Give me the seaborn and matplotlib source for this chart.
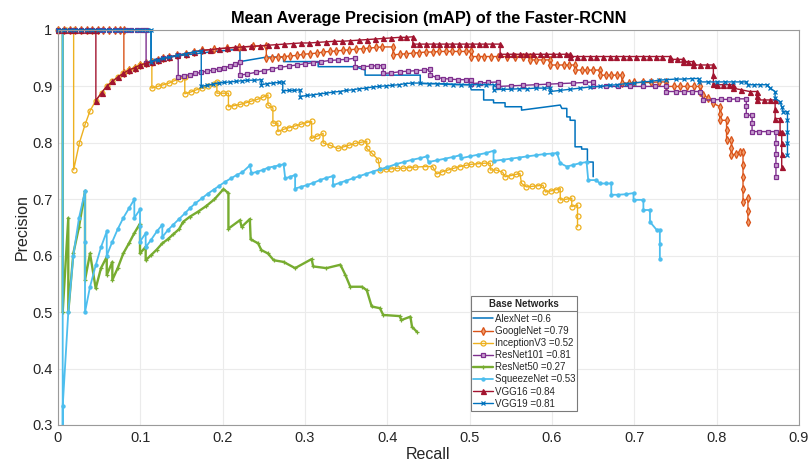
import matplotlib
matplotlib.use("Agg")
import matplotlib.pyplot as plt
from matplotlib.lines import Line2D
import pandas as pd
import seaborn as sns

# ---------------- data (recall, precision) ----------------
alexnet = [(0, 1), (0.113, 1), (0.113, 0.947), (0.15, 0.955), (0.19, 0.962), (0.221, 0.966),
           (0.221, 0.944), (0.253, 0.952), (0.274, 0.952), (0.274, 0.944), (0.316, 0.944),
           (0.316, 0.935), (0.361, 0.935), (0.373, 0.929), (0.373, 0.92), (0.44, 0.92),
           (0.44, 0.905), (0.46, 0.905), (0.50, 0.903), (0.502, 0.894), (0.517, 0.894),
           (0.517, 0.876), (0.529, 0.876), (0.529, 0.871), (0.543, 0.871), (0.543, 0.864),
           (0.563, 0.864), (0.563, 0.858), (0.61, 0.867), (0.612, 0.861), (0.618, 0.861),
           (0.618, 0.846), (0.622, 0.846), (0.622, 0.84), (0.628, 0.84), (0.628, 0.793),
           (0.636, 0.793), (0.636, 0.789), (0.643, 0.789), (0.643, 0.766), (0.65, 0.766),
           (0.65, 0.74)]

googlenet = [(0, 1), (0.007, 1), (0.014, 1), (0.021, 1), (0.028, 1), (0.035, 1), (0.041, 1),
             (0.048, 1), (0.055, 1), (0.062, 1), (0.069, 1), (0.075, 1), (0.08, 1),
             (0.08, 0.923), (0.086, 0.929),
             (0.093, 0.933), (0.1, 0.938), (0.107, 0.941), (0.114, 0.944), (0.121, 0.947),
             (0.128, 0.95), (0.135, 0.952), (0.145, 0.955), (0.155, 0.958), (0.165, 0.961),
             (0.175, 0.964), (0.19, 0.966), (0.205, 0.968), (0.22, 0.97), (0.237, 0.971),
             (0.253, 0.972), (0.253, 0.95), (0.26, 0.951), (0.267, 0.952), (0.274, 0.953),
             (0.282, 0.954), (0.29, 0.955), (0.298, 0.957), (0.306, 0.958), (0.314, 0.959),
             (0.322, 0.961), (0.33, 0.962), (0.338, 0.963), (0.346, 0.964), (0.354, 0.965),
             (0.362, 0.966), (0.37, 0.967), (0.378, 0.968), (0.386, 0.969), (0.394, 0.97),
             (0.407, 0.97), (0.407, 0.956), (0.415, 0.957), (0.423, 0.958), (0.431, 0.959),
             (0.439, 0.96), (0.447, 0.961), (0.455, 0.961), (0.463, 0.962), (0.471, 0.962),
             (0.479, 0.962), (0.487, 0.962), (0.495, 0.962), (0.502, 0.962), (0.502, 0.953),
             (0.51, 0.953), (0.518, 0.953), (0.526, 0.953), (0.535, 0.953), (0.545, 0.953),
             (0.555, 0.953), (0.565, 0.953), (0.573, 0.953), (0.573, 0.947), (0.58, 0.947),
             (0.589, 0.947), (0.598, 0.947), (0.598, 0.938), (0.606, 0.938), (0.614, 0.938),
             (0.621, 0.938), (0.628, 0.938), (0.628, 0.929), (0.636, 0.929), (0.643, 0.929),
             (0.65, 0.929), (0.658, 0.929), (0.658, 0.92), (0.665, 0.92), (0.672, 0.92),
             (0.679, 0.92), (0.685, 0.92), (0.685, 0.906), (0.693, 0.906), (0.7, 0.907),
             (0.71, 0.907), (0.72, 0.907), (0.73, 0.908), (0.739, 0.908), (0.739, 0.9),
             (0.748, 0.9), (0.756, 0.9), (0.764, 0.9), (0.772, 0.9), (0.78, 0.9), (0.78, 0.891),
             (0.784, 0.885), (0.79, 0.879), (0.796, 0.87), (0.804, 0.864), (0.804, 0.852),
             (0.804, 0.84), (0.812, 0.84), (0.812, 0.822), (0.812, 0.805), (0.818, 0.805),
             (0.818, 0.79), (0.818, 0.778), (0.824, 0.781), (0.828, 0.784), (0.832, 0.784),
             (0.832, 0.76), (0.832, 0.74), (0.832, 0.718), (0.832, 0.696), (0.838, 0.702),
             (0.838, 0.68), (0.838, 0.66)]

inceptionv3 = [(0, 1), (0.01, 1), (0.019, 1), (0.019, 0.752), (0.026, 0.8), (0.033, 0.833),
               (0.039, 0.857), (0.046, 0.875), (0.053, 0.889), (0.059, 0.9), (0.066, 0.909),
               (0.073, 0.917), (0.079, 0.923), (0.086, 0.929), (0.093, 0.933), (0.1, 0.938),
               (0.107, 0.941), (0.114, 0.944), (0.114, 0.897), (0.121, 0.9), (0.128, 0.903),
               (0.135, 0.906), (0.141, 0.91), (0.148, 0.913), (0.154, 0.917), (0.154, 0.887),
               (0.161, 0.89), (0.168, 0.894), (0.175, 0.897), (0.182, 0.9), (0.189, 0.904),
               (0.193, 0.908), (0.193, 0.888), (0.2, 0.888), (0.207, 0.888), (0.207, 0.864),
               (0.214, 0.866), (0.221, 0.868), (0.228, 0.871), (0.235, 0.874), (0.242, 0.877),
               (0.249, 0.881), (0.255, 0.885), (0.255, 0.867), (0.261, 0.862), (0.261, 0.835),
               (0.267, 0.835), (0.267, 0.82), (0.274, 0.824), (0.281, 0.827), (0.288, 0.83),
               (0.295, 0.833), (0.302, 0.836), (0.308, 0.838), (0.308, 0.808), (0.315, 0.812),
               (0.322, 0.817), (0.322, 0.80), (0.33, 0.796), (0.34, 0.79), (0.347, 0.793),
               (0.354, 0.796), (0.361, 0.799), (0.368, 0.801), (0.375, 0.803), (0.375, 0.79),
               (0.381, 0.782), (0.389, 0.77), (0.391, 0.752), (0.398, 0.753), (0.405, 0.754),
               (0.412, 0.755), (0.419, 0.755), (0.426, 0.756), (0.433, 0.757), (0.446, 0.758),
               (0.455, 0.758), (0.46, 0.745), (0.467, 0.749), (0.474, 0.752), (0.481, 0.755),
               (0.488, 0.758), (0.495, 0.76), (0.502, 0.762), (0.51, 0.763), (0.518, 0.764),
               (0.525, 0.764), (0.525, 0.752), (0.532, 0.752), (0.54, 0.748), (0.543, 0.74),
               (0.55, 0.742), (0.556, 0.744), (0.561, 0.746), (0.563, 0.728), (0.569, 0.722),
               (0.576, 0.723), (0.583, 0.724), (0.589, 0.725), (0.592, 0.713), (0.599, 0.715),
               (0.605, 0.717), (0.61, 0.719), (0.61, 0.699), (0.617, 0.7), (0.624, 0.702),
               (0.624, 0.687), (0.631, 0.69), (0.631, 0.67), (0.631, 0.651)]

resnet101 = [(0, 1), (0.007, 1), (0.014, 1), (0.021, 1), (0.028, 1), (0.035, 1), (0.041, 1),
             (0.048, 1), (0.055, 1), (0.062, 1), (0.069, 1), (0.075, 1), (0.082, 1),
             (0.089, 1), (0.096, 1), (0.102, 1), (0.107, 1),
             (0.107, 0.941), (0.114, 0.944), (0.121, 0.947), (0.128, 0.95), (0.135, 0.952),
             (0.146, 0.955), (0.146, 0.917), (0.153, 0.919), (0.16, 0.921), (0.167, 0.923),
             (0.174, 0.925), (0.181, 0.927), (0.188, 0.929), (0.195, 0.931), (0.202, 0.933),
             (0.209, 0.936), (0.215, 0.94), (0.221, 0.944), (0.221, 0.92), (0.23, 0.922),
             (0.24, 0.925), (0.25, 0.928), (0.26, 0.931), (0.27, 0.934), (0.28, 0.936),
             (0.29, 0.938), (0.30, 0.94), (0.31, 0.942), (0.32, 0.944), (0.33, 0.946),
             (0.34, 0.947), (0.35, 0.948), (0.361, 0.95), (0.361, 0.935), (0.37, 0.935),
             (0.38, 0.936), (0.388, 0.937), (0.395, 0.937), (0.395, 0.923), (0.405, 0.924),
             (0.415, 0.926), (0.425, 0.927), (0.435, 0.928), (0.445, 0.929), (0.452, 0.93),
             (0.452, 0.92), (0.46, 0.916), (0.468, 0.914), (0.476, 0.913), (0.486, 0.912),
             (0.496, 0.912), (0.502, 0.912), (0.502, 0.905), (0.512, 0.906), (0.522, 0.907),
             (0.535, 0.908), (0.535, 0.9), (0.55, 0.901), (0.565, 0.902), (0.58, 0.903),
             (0.595, 0.904), (0.61, 0.905), (0.625, 0.906), (0.64, 0.907), (0.65, 0.908),
             (0.65, 0.9), (0.665, 0.9), (0.68, 0.9), (0.695, 0.9), (0.71, 0.9), (0.725, 0.9),
             (0.739, 0.9), (0.739, 0.891), (0.75, 0.891), (0.76, 0.891), (0.77, 0.891),
             (0.78, 0.891), (0.784, 0.876), (0.795, 0.876), (0.805, 0.877), (0.815, 0.877),
             (0.825, 0.878), (0.836, 0.878), (0.836, 0.865), (0.836, 0.849), (0.843, 0.849),
             (0.843, 0.835), (0.843, 0.82), (0.852, 0.82), (0.862, 0.82), (0.872, 0.82),
             (0.872, 0.8), (0.872, 0.78), (0.872, 0.76), (0.872, 0.74)]

resnet50 = [(0.0057, 1), (0.0057, 0.5), (0.0125, 0.667), (0.0125, 0.5), (0.0186, 0.604),
            (0.0255, 0.651), (0.0328, 0.714), (0.0328, 0.557), (0.0389, 0.604), (0.0458, 0.542),
            (0.0522, 0.578), (0.0592, 0.598), (0.0592, 0.566), (0.066, 0.589), (0.066, 0.557),
            (0.0725, 0.578), (0.0793, 0.604), (0.0862, 0.622), (0.0927, 0.64), (0.0996, 0.657),
            (0.0996, 0.604), (0.1065, 0.616), (0.1065, 0.592), (0.113, 0.601), (0.12, 0.611),
            (0.1267, 0.622), (0.1332, 0.629), (0.14, 0.638), (0.147, 0.647), (0.152, 0.66),
            (0.16, 0.669), (0.17, 0.678), (0.18, 0.688), (0.19, 0.7), (0.201, 0.718),
            (0.207, 0.711), (0.207, 0.648), (0.221, 0.663), (0.223, 0.651), (0.233, 0.665),
            (0.234, 0.629), (0.243, 0.622), (0.247, 0.61), (0.255, 0.604), (0.262, 0.592),
            (0.274, 0.589), (0.288, 0.578), (0.308, 0.594), (0.31, 0.581), (0.326, 0.578),
            (0.343, 0.584), (0.349, 0.566), (0.355, 0.545), (0.369, 0.545), (0.375, 0.539),
            (0.381, 0.51), (0.391, 0.507), (0.395, 0.495), (0.415, 0.493), (0.417, 0.486),
            (0.428, 0.492), (0.43, 0.474), (0.436, 0.465)]

squeezenet = [(0.0057, 1), (0.0057, 0.0), (0.0057, 0.333), (0.0125, 0.5), (0.0186, 0.6),
              (0.0255, 0.667), (0.0328, 0.714), (0.0328, 0.625), (0.0328, 0.5), (0.0389, 0.545),
              (0.0458, 0.583), (0.0522, 0.615), (0.0592, 0.643), (0.0592, 0.6), (0.066, 0.625),
              (0.0725, 0.647), (0.0793, 0.667), (0.0862, 0.684), (0.0927, 0.7), (0.0927, 0.667),
              (0.0996, 0.682), (0.0996, 0.652), (0.0996, 0.625), (0.1065, 0.64), (0.1065, 0.615),
              (0.113, 0.628), (0.12, 0.643), (0.1267, 0.655), (0.1267, 0.633), (0.1332, 0.645),
              (0.14, 0.655), (0.147, 0.665), (0.154, 0.675), (0.16, 0.684), (0.167, 0.693),
              (0.175, 0.702), (0.182, 0.71), (0.189, 0.717), (0.196, 0.724), (0.203, 0.731),
              (0.21, 0.737), (0.217, 0.743), (0.224, 0.748), (0.233, 0.76), (0.235, 0.746),
              (0.242, 0.749), (0.249, 0.752), (0.255, 0.756), (0.262, 0.758), (0.268, 0.76),
              (0.274, 0.762), (0.276, 0.737), (0.282, 0.74), (0.288, 0.743), (0.288, 0.719),
              (0.295, 0.722), (0.302, 0.725), (0.31, 0.729), (0.318, 0.734), (0.326, 0.738),
              (0.334, 0.741), (0.334, 0.725), (0.342, 0.729), (0.35, 0.733), (0.358, 0.737),
              (0.366, 0.741), (0.374, 0.745), (0.382, 0.749), (0.391, 0.753), (0.4, 0.757),
              (0.41, 0.762), (0.42, 0.766), (0.43, 0.77), (0.44, 0.773), (0.448, 0.776),
              (0.45, 0.766), (0.46, 0.769), (0.47, 0.772), (0.48, 0.775), (0.488, 0.778),
              (0.49, 0.773), (0.5, 0.776), (0.51, 0.779), (0.52, 0.782), (0.529, 0.786),
              (0.529, 0.768), (0.54, 0.77), (0.55, 0.772), (0.56, 0.774), (0.57, 0.776),
              (0.58, 0.778), (0.59, 0.78), (0.6, 0.781), (0.606, 0.782), (0.61, 0.764),
              (0.618, 0.758), (0.626, 0.761), (0.634, 0.764), (0.642, 0.766), (0.644, 0.734),
              (0.654, 0.734), (0.658, 0.728), (0.665, 0.728), (0.672, 0.728), (0.672, 0.708),
              (0.68, 0.708), (0.69, 0.709), (0.699, 0.711), (0.699, 0.699), (0.711, 0.699),
              (0.711, 0.681), (0.719, 0.681), (0.719, 0.66), (0.727, 0.646), (0.731, 0.646),
              (0.731, 0.62), (0.731, 0.595)]

vgg16 = [(0, 1), (0.007, 1), (0.014, 1), (0.021, 1), (0.028, 1), (0.035, 1), (0.041, 1),
         (0.046, 1), (0.046, 0.875),
         (0.053, 0.889), (0.059, 0.9), (0.066, 0.909), (0.073, 0.917), (0.079, 0.923),
         (0.086, 0.929), (0.093, 0.933), (0.1, 0.938), (0.107, 0.941), (0.114, 0.944),
         (0.121, 0.947), (0.128, 0.95), (0.135, 0.952), (0.145, 0.955), (0.155, 0.958),
         (0.165, 0.961), (0.175, 0.964), (0.185, 0.965), (0.195, 0.967), (0.205, 0.968),
         (0.215, 0.969), (0.225, 0.97), (0.235, 0.971), (0.245, 0.972), (0.255, 0.973),
         (0.265, 0.974), (0.275, 0.975), (0.285, 0.976), (0.295, 0.977), (0.305, 0.977),
         (0.315, 0.978), (0.325, 0.979), (0.335, 0.98), (0.345, 0.98), (0.355, 0.981),
         (0.365, 0.982), (0.375, 0.983), (0.385, 0.984), (0.395, 0.985), (0.405, 0.986),
         (0.415, 0.987), (0.423, 0.987), (0.431, 0.988), (0.431, 0.975), (0.439, 0.975),
         (0.447, 0.975), (0.455, 0.975), (0.463, 0.975), (0.471, 0.975), (0.479, 0.975),
         (0.487, 0.975), (0.495, 0.975), (0.503, 0.975), (0.511, 0.975), (0.519, 0.975),
         (0.527, 0.975), (0.537, 0.975), (0.537, 0.957), (0.545, 0.957), (0.553, 0.957),
         (0.561, 0.957), (0.569, 0.957), (0.577, 0.957), (0.585, 0.957), (0.593, 0.957),
         (0.601, 0.957), (0.609, 0.957), (0.617, 0.957), (0.622, 0.957), (0.622, 0.953),
         (0.63, 0.953), (0.638, 0.953), (0.646, 0.953), (0.654, 0.953), (0.662, 0.953),
         (0.67, 0.953), (0.678, 0.953), (0.686, 0.953), (0.694, 0.953), (0.702, 0.953),
         (0.71, 0.953), (0.718, 0.953), (0.726, 0.953), (0.734, 0.953), (0.743, 0.953),
         (0.743, 0.948), (0.752, 0.948), (0.759, 0.948), (0.759, 0.944), (0.765, 0.944),
         (0.771, 0.944), (0.771, 0.938), (0.78, 0.938), (0.788, 0.938), (0.796, 0.938),
         (0.796, 0.92), (0.796, 0.905), (0.8, 0.903), (0.808, 0.903), (0.815, 0.903),
         (0.82, 0.903), (0.82, 0.897), (0.83, 0.894), (0.84, 0.891), (0.849, 0.891),
         (0.849, 0.883), (0.849, 0.876), (0.857, 0.876), (0.865, 0.876), (0.871, 0.876),
         (0.871, 0.86), (0.871, 0.843), (0.877, 0.843), (0.877, 0.82), (0.879, 0.82),
         (0.879, 0.8), (0.879, 0.78), (0.879, 0.758)]

vgg19 = [(0, 1), (0.007, 1), (0.014, 1), (0.021, 1), (0.028, 1), (0.035, 1), (0.041, 1),
         (0.048, 1), (0.055, 1), (0.062, 1), (0.069, 1), (0.075, 1), (0.082, 1),
         (0.089, 1), (0.096, 1), (0.102, 1), (0.108, 1), (0.113, 1),
         (0.113, 0.944), (0.121, 0.947), (0.128, 0.95), (0.135, 0.952), (0.145, 0.955),
         (0.155, 0.958), (0.165, 0.961), (0.174, 0.963), (0.174, 0.9), (0.181, 0.902),
         (0.188, 0.904), (0.195, 0.906), (0.202, 0.907), (0.209, 0.908), (0.216, 0.909),
         (0.223, 0.91), (0.23, 0.911), (0.238, 0.911), (0.247, 0.912), (0.247, 0.903),
         (0.254, 0.905), (0.261, 0.906), (0.268, 0.907), (0.273, 0.908), (0.273, 0.892),
         (0.28, 0.893), (0.287, 0.893), (0.294, 0.894), (0.294, 0.882), (0.302, 0.884),
         (0.31, 0.885), (0.318, 0.887), (0.326, 0.888), (0.334, 0.89), (0.342, 0.891),
         (0.35, 0.893), (0.358, 0.894), (0.366, 0.896), (0.374, 0.897), (0.382, 0.899),
         (0.39, 0.9), (0.398, 0.901), (0.406, 0.902), (0.414, 0.903), (0.422, 0.905),
         (0.43, 0.906), (0.44, 0.906), (0.45, 0.905), (0.46, 0.905), (0.47, 0.904),
         (0.48, 0.903), (0.49, 0.903), (0.5, 0.903), (0.51, 0.903), (0.52, 0.903),
         (0.529, 0.903), (0.529, 0.894), (0.54, 0.895), (0.55, 0.895), (0.56, 0.896),
         (0.57, 0.896), (0.58, 0.897), (0.59, 0.897), (0.598, 0.897), (0.598, 0.891),
         (0.61, 0.893), (0.622, 0.895), (0.634, 0.897), (0.646, 0.899), (0.658, 0.9),
         (0.67, 0.902), (0.679, 0.903), (0.69, 0.905), (0.7, 0.906), (0.71, 0.908),
         (0.72, 0.909), (0.73, 0.911), (0.739, 0.912), (0.75, 0.913), (0.76, 0.913),
         (0.77, 0.914), (0.778, 0.914), (0.778, 0.908), (0.79, 0.908), (0.8, 0.908),
         (0.81, 0.908), (0.82, 0.908), (0.83, 0.908), (0.836, 0.908), (0.838, 0.903),
         (0.845, 0.903), (0.853, 0.903), (0.861, 0.903), (0.865, 0.897), (0.871, 0.891),
         (0.871, 0.879), (0.877, 0.873), (0.879, 0.864), (0.881, 0.855), (0.886, 0.855),
         (0.886, 0.84), (0.886, 0.82), (0.886, 0.8), (0.886, 0.778)]

network_names = ["AlexNet", "GoogleNet", "InceptionV3", "ResNet101",
                 "ResNet50", "SqueezeNet", "VGG16", "VGG19"]
network_ap = [0.6, 0.79, 0.52, 0.81, 0.27, 0.53, 0.84, 0.81]
network_curves = [alexnet, googlenet, inceptionv3, resnet101,
                  resnet50, squeezenet, vgg16, vgg19]

x_ticks = [0, 0.1, 0.2, 0.3, 0.4, 0.5, 0.6, 0.7, 0.8, 0.9]
x_tick_labels = ["0", "0.1", "0.2", "0.3", "0.4", "0.5", "0.6", "0.7", "0.8", "0.9"]
y_ticks = [0.3, 0.4, 0.5, 0.6, 0.7, 0.8, 0.9, 1.0]
y_tick_labels = ["0.3", "0.4", "0.5", "0.6", "0.7", "0.8", "0.9", "1"]

# ---------------- styles ----------------
styles = [
    dict(color="#0072BD", marker=None, lw=1.1, clip=False),
    dict(color="#D95319", marker="d", ms=3.6, mfc="#F0A070", lw=1.0, clip=False),
    dict(color="#EDB120", marker="o", ms=3.6, mfc="none", lw=1.0, clip=False),
    dict(color="#7E2F8E", marker="s", ms=3.2, mfc="#C8A0D0", lw=1.0, clip=False),
    dict(color="#77AC30", marker="+", ms=3.2, mfc="#77AC30", lw=1.7, clip=False),
    dict(color="#4DBEEE", marker=".", ms=4.5, mfc="#4DBEEE", lw=1.3, clip=True),
    dict(color="#A2142F", marker="^", ms=3.6, mfc="#A2142F", lw=1.0, clip=False),
    dict(color="#0072BD", marker="x", ms=2.6, mfc="#0072BD", lw=1.0, clip=False),
]

sns.set_theme(style="whitegrid")
plt.rcParams["font.family"] = ["Liberation Sans", "DejaVu Sans"]

fig = plt.figure(figsize=(8.11, 4.66), dpi=100)
ax = fig.add_axes([58 / 811, 1 - 425 / 466, (799 - 58) / 811, (425 - 30) / 466])
ax.set_facecolor("white")

for name, ap, curve, st in zip(network_names, network_ap, network_curves, styles):
    df = pd.DataFrame(curve, columns=["Recall", "Precision"])
    kws = dict(color=st["color"], lw=st["lw"])
    if st["marker"] is not None:
        kws.update(marker=st["marker"], markersize=st["ms"],
                   markerfacecolor=st["mfc"], markeredgecolor=st["color"],
                   markeredgewidth=0.9)
    sns.lineplot(data=df, x="Recall", y="Precision", sort=False, estimator=None,
                 ax=ax, label=f"{name} ={ap:g}", clip_on=st["clip"], **kws)

ax.set_xlim(0, 0.9)
ax.set_ylim(0.3, 1.0)
ax.set_xticks(x_ticks)
ax.set_xticklabels(x_tick_labels)
ax.set_yticks(y_ticks)
ax.set_yticklabels(y_tick_labels)
ax.grid(True, color="#ebebeb", lw=0.8)
for sp in ax.spines.values():
    sp.set_color("#9a9a9a")
    sp.set_linewidth(0.8)
ax.tick_params(axis="both", direction="in", length=3, color="#9a9a9a",
               labelsize=10.5, labelcolor="#262626", pad=4)
ax.set_xlabel("Recall", fontsize=11.5, color="#262626", labelpad=2)
ax.set_ylabel("Precision", fontsize=11.5, color="#262626", labelpad=2)
ax.set_title("Mean Average Precision (mAP) of the Faster-RCNN", fontsize=11.8,
             fontweight="bold", color="black", pad=5)

leg = ax.legend(title="Base Networks", loc="lower left", bbox_to_anchor=(0.557, 0.035),
                fontsize=7, title_fontsize=7, frameon=True, fancybox=False,
                edgecolor="#7a7a7a", framealpha=1, borderpad=0.25, labelspacing=0.22,
                handlelength=2.0, handletextpad=0.2, borderaxespad=0)
leg.get_title().set_fontweight("bold")
leg.get_frame().set_linewidth(0.8)
leg.set_zorder(10)
leg._legend_box.sep = 3.5  # a little room between the title and the entries

fig.canvas.draw()
lb = leg.get_window_extent()
tb = leg.get_title().get_window_extent()
first_txt = leg.get_texts()[0].get_window_extent()
yline = ((tb.y0 + first_txt.y1) / 2) / fig.bbox.height
fig.add_artist(Line2D([lb.x0 / fig.bbox.width, lb.x1 / fig.bbox.width], [yline, yline],
                      color="#7a7a7a", lw=0.8, transform=fig.transFigure, zorder=11))

fig.savefig("out.png", dpi=100)
